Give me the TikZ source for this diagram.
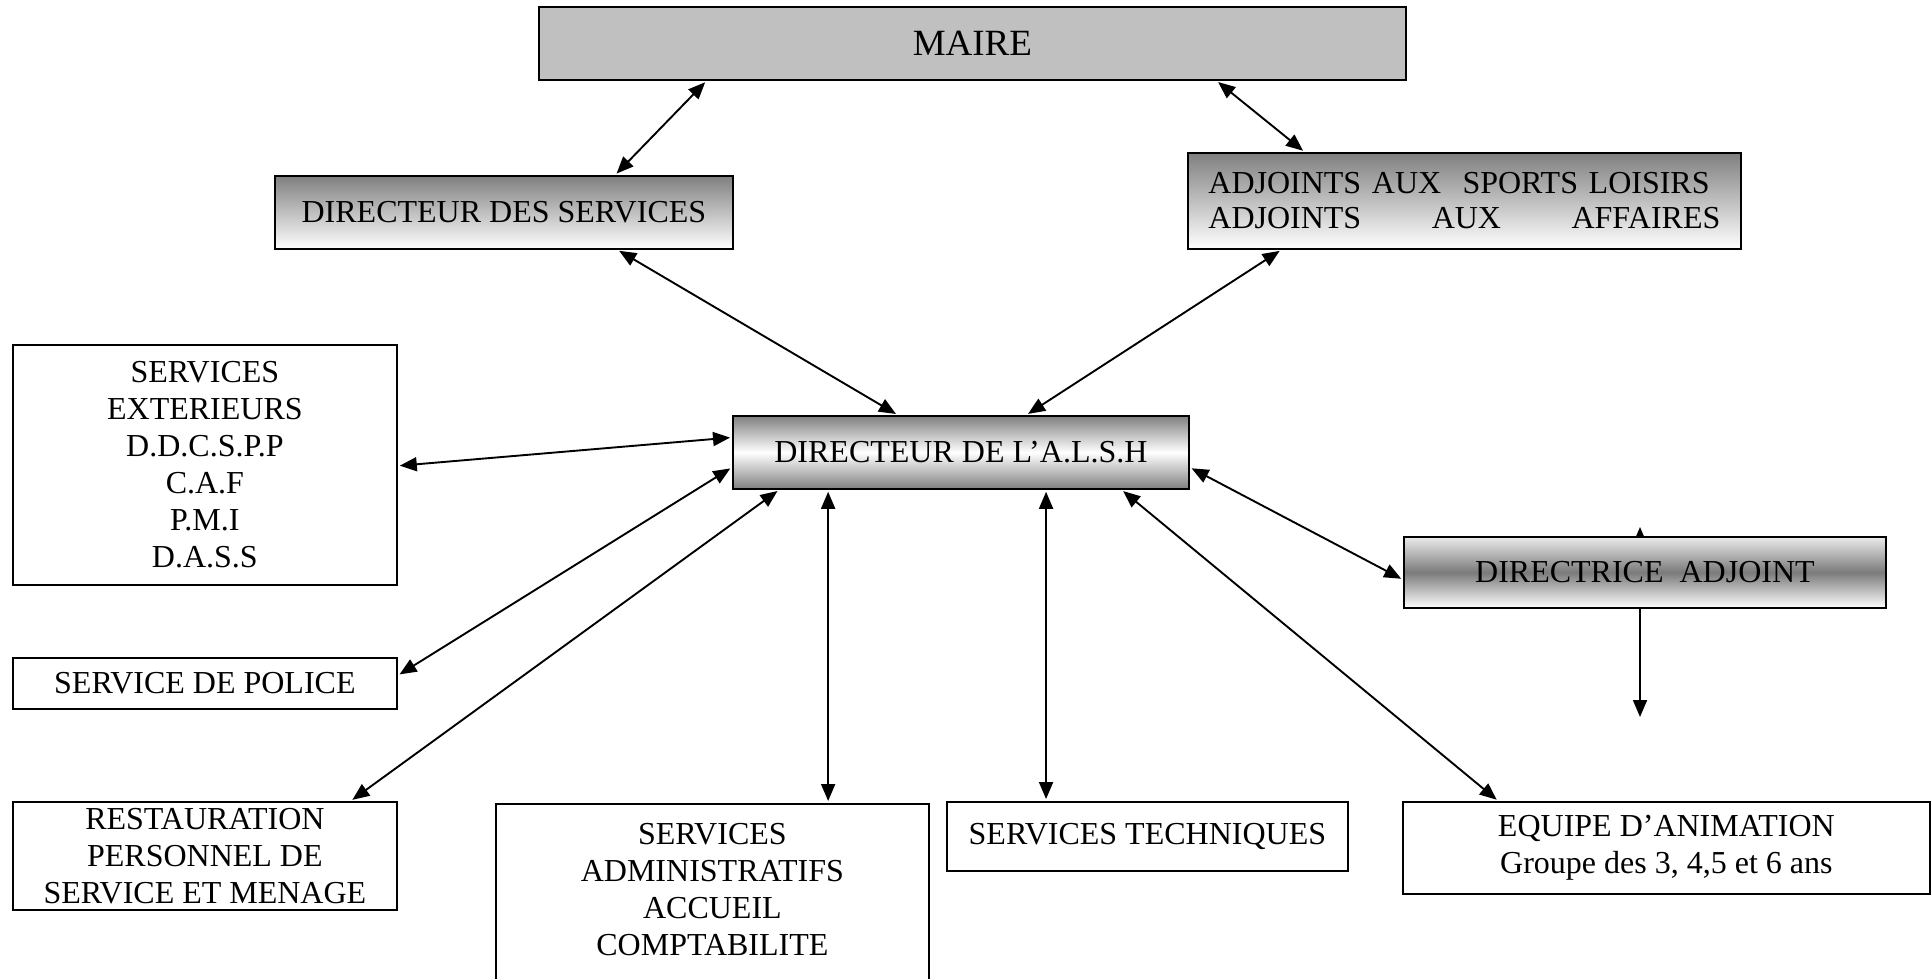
\documentclass[tikz,border=0pt]{standalone}
\usepackage{fontspec}
\setmainfont{Liberation Serif}
\usetikzlibrary{arrows.meta,calc}
\definecolor{mairegray}{RGB}{192,192,192}
\begin{document}
\begin{tikzpicture}[x=1pt,y=-1pt,
  box/.style={draw=black, line width=1.8pt, inner sep=0pt, anchor=north west,
    align=center, font=\fontsize{32}{37}\selectfont},
  topshade/.style={top color=black!50, bottom color=white},
  midlight/.style={top color=black!50, bottom color=black!50, middle color=white},
  middark/.style={top color=black!8, bottom color=white, middle color=black!52},
  con/.style={line width=1.9pt, {Triangle[length=17pt,width=14pt]}-{Triangle[length=17pt,width=14pt]}, shorten <=2pt, shorten >=2pt},
  one/.style={line width=1.9pt, -{Triangle[length=17pt,width=14pt]}}
]
\useasboundingbox (0,0) rectangle (1932,979);
\clip (0,0) rectangle (1932,979);

% hidden arrow whose tip shows above DIRECTRICE ADJOINT
\coordinate (tipS) at (1640,585);
\coordinate (tipE) at (1640,527);
\draw[one] (tipS) -- (tipE);

\node[box, fill=mairegray, minimum width=867pt, minimum height=73pt,
  font=\fontsize{37}{42}\selectfont] (maire) at (538,6) {MAIRE};

\node[box, topshade, minimum width=458pt, minimum height=73pt] (ds) at (274,175)
  {DIRECTEUR DES SERVICES};

\node[box, topshade, minimum width=553pt, minimum height=96pt, text width=512pt,
  align=left, font=\fontsize{32}{35}\selectfont] (adj) at (1187,152)
  {ADJOINTS AUX\ \ SPORTS LOISIRS\\\hbox to 512pt{ADJOINTS\hfill AUX\hfill AFFAIRES}};

\node[box, midlight, minimum width=456pt, minimum height=73pt] (alsh) at (732,415)
  {DIRECTEUR DE L’A.L.S.H};

\node[box, middark, minimum width=482pt, minimum height=71pt] (da) at (1403,536)
  {DIRECTRICE\ \ ADJOINT};

\node[box, minimum width=384pt, minimum height=240pt] (ext) at (12,344)
  {SERVICES\\EXTERIEURS\\D.D.C.S.P.P\\C.A.F\\P.M.I\\D.A.S.S};

\node[box, minimum width=384pt, minimum height=51pt] (pol) at (12,657)
  {SERVICE DE POLICE};

\node[box, minimum width=384pt, minimum height=108pt] (rest) at (12,801)
  {RESTAURATION\\PERSONNEL DE\\SERVICE ET MENAGE};

\node[box, minimum width=433pt, minimum height=200pt] (adm) at (495,803)
  {SERVICES\\ADMINISTRATIFS\\ACCUEIL\\COMPTABILITE\rule[-30pt]{0pt}{30pt}};

\node[box, minimum width=401pt, minimum height=69pt] (tech) at (946,801)
  {SERVICES TECHNIQUES};

\node[box, minimum width=527pt, minimum height=92pt] (eq) at (1402,801)
  {EQUIPE D’ANIMATION\\Groupe des 3, 4,5 et 6 ans};

% connectors
\draw[con] ($(maire.south west)!0.194!(maire.south east)$) -- ($(ds.north west)!0.742!(ds.north east)$);
\draw[con] ($(maire.south west)!0.781!(maire.south east)$) -- ($(adj.north west)!0.212!(adj.north east)$);
\draw[con] ($(ds.south west)!0.747!(ds.south east)$) -- ($(alsh.north west)!0.362!(alsh.north east)$);
\draw[con] ($(adj.south west)!0.170!(adj.south east)$) -- ($(alsh.north west)!0.643!(alsh.north east)$);
\draw[con] ($(ext.north east)!0.504!(ext.south east)$) -- ($(alsh.north west)!0.30!(alsh.south west)$);
\draw[con] ($(pol.north east)!0.35!(pol.south east)$) -- ($(alsh.north west)!0.70!(alsh.south west)$);
\draw[con] ($(rest.north west)!0.878!(rest.north east)$) -- ($(alsh.south west)!0.103!(alsh.south east)$);
\coordinate (pa) at ($(alsh.south west)!0.21!(alsh.south east)$);
\draw[con] (pa) -- (pa |- adm.north);
\coordinate (pt) at ($(alsh.south west)!0.686!(alsh.south east)$);
\draw[con] (pt) -- (pt |- tech.north);
\draw[con] ($(eq.north west)!0.182!(eq.north east)$) -- ($(alsh.south west)!0.851!(alsh.south east)$);
\draw[con] ($(alsh.north east)!0.70!(alsh.south east)$) -- ($(da.north west)!0.6!(da.south west)$);
\coordinate (dend) at (1640,717);
\draw[one] (dend |- da.south) -- (dend);
\end{tikzpicture}
\end{document}
